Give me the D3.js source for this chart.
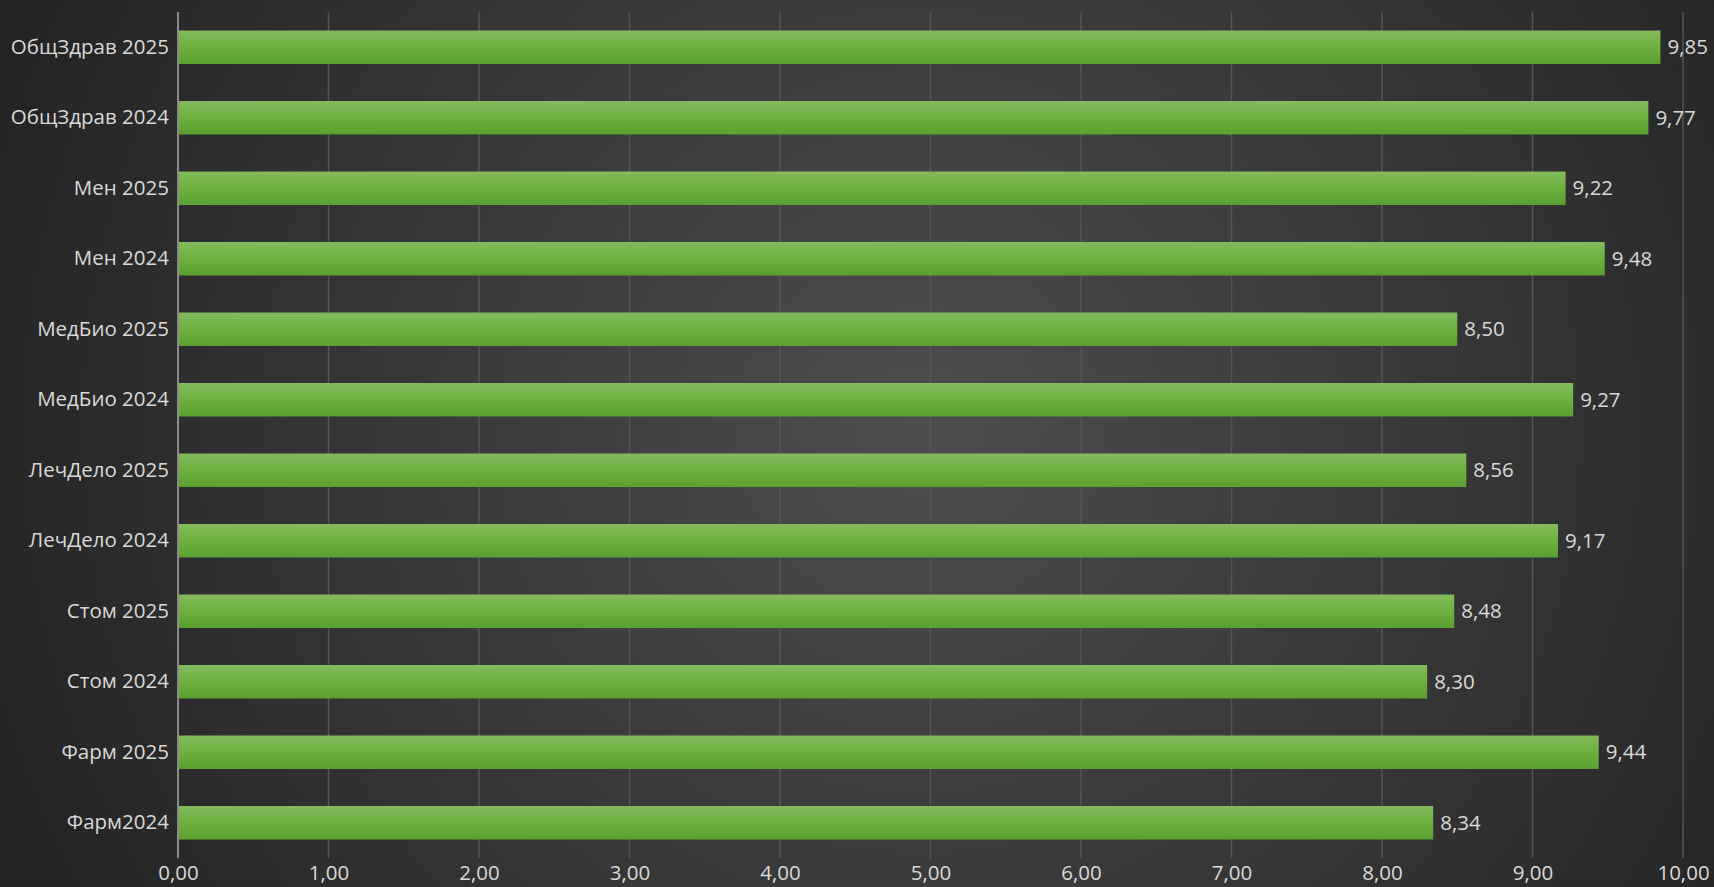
<!DOCTYPE html>
<html><head><meta charset="utf-8">
<script src="https://cdn.jsdelivr.net/npm/d3@7"></script>
<style>html,body{margin:0;padding:0;background:#2b2b2b;overflow:hidden}</style>
</head><body>
<svg id="c" width="1714" height="887"></svg>
<script>
const categories = ["ОбщЗдрав 2025","ОбщЗдрав 2024","Мен 2025","Мен 2024","МедБио 2025","МедБио 2024","ЛечДело 2025","ЛечДело 2024","Стом 2025","Стом 2024","Фарм 2025","Фарм2024"];
const values = [9.85,9.77,9.22,9.48,8.50,9.27,8.56,9.17,8.48,8.30,9.44,8.34];
const xTicks = [0,1,2,3,4,5,6,7,8,9,10];

const W = 1714, H = 887;
const m = {left:178, right:31, top:12, bottom:29};
const svg = d3.select("#c");
const defs = svg.append("defs");
const rg = defs.append("radialGradient").attr("id","bg").attr("gradientUnits","userSpaceOnUse")
  .attr("cx",920).attr("cy",430).attr("r",1000);
rg.append("stop").attr("offset","0").attr("stop-color","#4d4d4d");
rg.append("stop").attr("offset","0.55").attr("stop-color","#363636");
rg.append("stop").attr("offset","1").attr("stop-color","#232323");
const bg = defs.append("linearGradient").attr("id","bar").attr("x1",0).attr("x2",0).attr("y1",0).attr("y2",1);
bg.append("stop").attr("offset","0").attr("stop-color","#83bb5e");
bg.append("stop").attr("offset","0.5").attr("stop-color","#6eb03f");
bg.append("stop").attr("offset","1").attr("stop-color","#5a9f31");

svg.append("rect").attr("width",W).attr("height",H).attr("fill","url(#bg)");

const x = d3.scaleLinear().domain([0,10]).range([m.left, W-m.right]);
const y = d3.scaleBand().domain(categories).range([m.top, H-m.bottom]).paddingInner(0.525).paddingOuter(0.2625);

// gridlines
svg.append("g").selectAll("line").data(xTicks.filter(d=>d>0)).join("line")
  .attr("x1",d=>x(d)).attr("x2",d=>x(d)).attr("y1",m.top).attr("y2",H-m.bottom)
  .attr("stroke","#545454").attr("stroke-width",1.5);

// bars
svg.append("g").selectAll("rect").data(values).join("rect")
  .attr("x",x(0)).attr("y",(d,i)=>y(categories[i]))
  .attr("width",d=>x(d)-x(0)).attr("height",y.bandwidth())
  .attr("fill","url(#bar)");

// axis line
svg.append("line").attr("x1",x(0)).attr("x2",x(0)).attr("y1",m.top).attr("y2",H-m.bottom)
  .attr("stroke","#8a8a8a").attr("stroke-width",2);

const fmt = v => d3.format(".2f")(v).replace(".",",");
const font = "'Open Sans', 'Noto Sans', sans-serif";
const fs = 20.5;

// value labels
svg.append("g").selectAll("text").data(values).join("text")
  .attr("x",d=>x(d)+7).attr("y",(d,i)=>y(categories[i])+y.bandwidth()/2)
  .attr("dy","0.35em").attr("fill","#d9d9d9").attr("font-family",font).attr("font-size",fs)
  .text(d=>fmt(d));

// y axis labels
const ya = d3.axisLeft(y).tickSize(0).tickPadding(8);
const gy = svg.append("g").attr("transform",`translate(${x(0)-1},0)`).call(ya);
gy.select(".domain").remove();
gy.selectAll("text").attr("fill","#d9d9d9").attr("font-family",font).attr("font-size",fs);

// x axis labels
const xa = d3.axisBottom(x).tickValues(xTicks).tickSize(0).tickPadding(7).tickFormat(fmt);
const gx = svg.append("g").attr("transform",`translate(0,${H-m.bottom})`).call(xa);
gx.select(".domain").remove();
gx.selectAll("text").attr("fill","#d9d9d9").attr("font-family",font).attr("font-size",fs);
</script>
</body></html>
